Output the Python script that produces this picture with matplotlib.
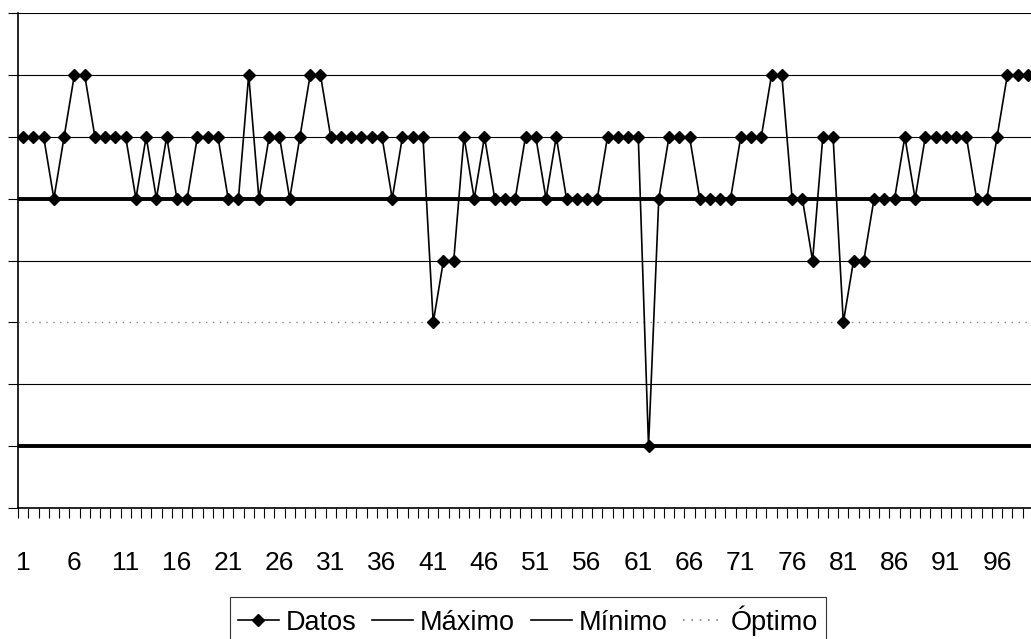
import numpy as np
import matplotlib
matplotlib.use('Agg')
import matplotlib.pyplot as plt

plt.rcParams['font.family'] = ['Liberation Sans', 'DejaVu Sans']

# valores (sin escala visible en el eje y)
datos = [6, 6, 6, 5, 6, 7, 7, 6, 6, 6,
         6, 5, 6, 5, 6, 5, 5, 6, 6, 6,
         5, 5, 7, 5, 6, 6, 5, 6, 7, 7,
         6, 6, 6, 6, 6, 6, 5, 6, 6, 6,
         3, 4, 4, 6, 5, 6, 5, 5, 5, 6,
         6, 5, 6, 5, 5, 5, 5, 6, 6, 6,
         6, 1, 5, 6, 6, 6, 5, 5, 5, 5,
         6, 6, 6, 7, 7, 5, 5, 4, 6, 6,
         3, 4, 4, 5, 5, 5, 6, 5, 6, 6,
         6, 6, 6, 5, 5, 6, 7, 7, 7]
maximo = 5
minimo = 1
optimo = 3
n = len(datos)
x = np.arange(1, n + 1)
xlabels = [str(i) for i in range(1, n + 1, 5)]

fig = plt.figure(figsize=(10.31, 6.39), dpi=100)
ax = fig.add_axes([18/1031, 1 - 508/639, (1033 - 18)/1031, (508 - 13)/639])

ax.plot(x, datos, color='black', lw=1.2, marker='D', markersize=6, label='Datos', zorder=5)
ax.axhline(maximo, color='black', lw=2.8, label='Máximo', zorder=4)
ax.axhline(minimo, color='black', lw=2.8, label='Mínimo', zorder=4)
ax.axhline(optimo, color='#888888', lw=1.0, ls=(0, (1, 4)), label='Óptimo', zorder=4)

ax.set_xlim(0.5, n + 0.5)
ax.set_ylim(0, 8)
ax.set_yticks(range(0, 9))
ax.set_yticklabels([])
ax.yaxis.grid(True, color='black', lw=0.8)
ax.get_ygridlines()[optimo].set_visible(False)

ax.set_xticks(np.arange(0.5, n + 1, 1))
ax.set_xticklabels([])
ax.set_xticks(range(1, n + 1, 5), minor=True)
ax.set_xticklabels(xlabels, minor=True, fontsize=19)
ax.tick_params(axis='x', which='major', direction='out', length=7, width=0.8)
ax.tick_params(axis='x', which='minor', length=0, pad=31)
ax.tick_params(axis='y', direction='out', length=7, width=0.8)

for s in ['top', 'right']:
    ax.spines[s].set_visible(False)
ax.spines['left'].set_linewidth(1.2)
ax.spines['bottom'].set_linewidth(1.2)

leg = fig.legend(loc='upper center', bbox_to_anchor=(528/1031, 1 - 597/639), ncol=4,
                 fontsize=19.5, frameon=True, fancybox=False, handlelength=1.5,
                 handletextpad=0.25, columnspacing=0.6, borderpad=0.3, borderaxespad=0)
leg.get_frame().set_edgecolor('black')
leg.get_frame().set_linewidth(0.8)
for h in leg.legend_handles:
    h.set_linewidth(1.2)

fig.savefig('out.png', dpi=100)
